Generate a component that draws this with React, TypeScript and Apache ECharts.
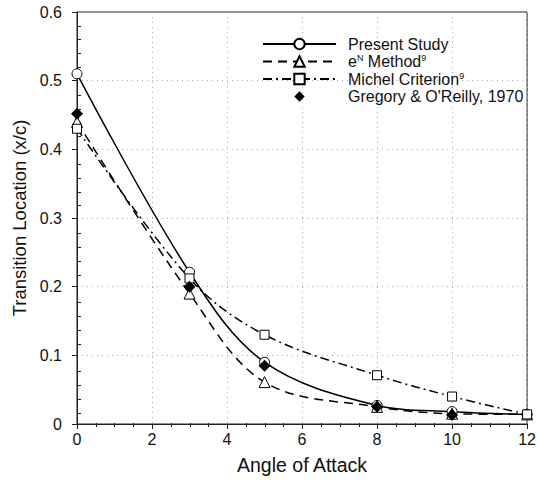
import React, { useEffect, useRef } from "react";
import * as echarts from "echarts";

const angles = [0, 3, 5, 8, 10, 12];
const presentStudy = [0.51, 0.221, 0.09, 0.027, 0.018, 0.014];
const eNMethod = [0.44, 0.19, 0.061, 0.025, 0.015, 0.014];
const michel = [0.43, 0.212, 0.13, 0.071, 0.04, 0.014];
const gregoryAngles = [0, 3, 5, 8, 10];
const gregory = [0.452, 0.2, 0.085, 0.025, 0.013];

const FONT = "Liberation Sans, Arial, sans-serif";

function pairs(xs: number[], ys: number[]) {
  return xs.map((x, i) => [x, ys[i]]);
}

export default function App() {
  const ref = useRef<HTMLDivElement>(null);
  useEffect(() => {
    if (!ref.current) return;
    const chart = echarts.init(ref.current, undefined, { renderer: "svg" });
    const gridPos = { left: 77, right: 11, top: 12, bottom: 53 };
    const axisBase = {
      axisLine: { show: true, lineStyle: { color: "#222", width: 1 } },
    };
    const legendLabels: Record<string, string> = {
      "Present Study": "{sp| }{n|Present Study}{s| }",
      "eN Method": "{sp| }{n|e}{s|N}{n| Method}{s|9}",
      "Michel Criterion": "{sp| }{n|Michel Criterion}{s|9}",
      "Gregory & O'Reilly, 1970": "{sp| }{n|Gregory & O'Reilly, 1970}{s| }",
    };
    chart.setOption({
      animation: false,
      backgroundColor: "#fff",
      grid: [
        { ...gridPos, show: true, borderColor: "#222", borderWidth: 1, backgroundColor: "transparent" },
        { ...gridPos },
      ],
      xAxis: [
        {
          ...axisBase,
          gridIndex: 0,
          type: "value",
          min: 0,
          max: 12,
          interval: 2,
          name: "Angle of Attack",
          nameLocation: "middle",
          nameGap: 31,
          nameTextStyle: { fontFamily: FONT, fontSize: 19.5, color: "#111" },
          axisTick: { show: true, inside: false, length: 5, lineStyle: { color: "#222" } },
          axisLabel: { fontFamily: FONT, fontSize: 16, color: "#111", margin: 7 },
          splitLine: { show: true, lineStyle: { color: "#aaa", type: [1, 4], width: 1 } },
        },
        {
          gridIndex: 1,
          type: "value",
          min: 0,
          max: 12,
          interval: 2,
          position: "bottom",
          axisLine: { show: false },
          axisTick: { show: false, inside: true },
          minorTick: { show: true, splitNumber: 4, length: 4, lineStyle: { color: "#222", width: 1 } },
          axisLabel: { show: false },
          splitLine: { show: false },
        },
      ],
      yAxis: [
        {
          ...axisBase,
          gridIndex: 0,
          type: "value",
          min: 0,
          max: 0.6,
          interval: 0.1,
          name: "Transition Location (x/c)",
          nameLocation: "middle",
          nameGap: 38,
          nameTextStyle: { fontFamily: FONT, fontSize: 18.5, color: "#111" },
          axisTick: { show: true, inside: false, length: 5, lineStyle: { color: "#222" } },
          axisLabel: { fontFamily: FONT, fontSize: 16, color: "#111", margin: 15 },
          splitLine: { show: true, lineStyle: { color: "#aaa", type: [1, 4], width: 1 } },
        },
        {
          gridIndex: 1,
          type: "value",
          min: 0,
          max: 0.6,
          interval: 0.1,
          position: "left",
          axisLine: { show: false },
          axisTick: { show: false, inside: true },
          minorTick: { show: true, splitNumber: 5, length: 4, lineStyle: { color: "#222", width: 1 } },
          axisLabel: { show: false },
          splitLine: { show: false },
        },
      ],
      legend: {
        orient: "vertical",
        left: 257,
        top: 31,
        itemWidth: 73,
        itemHeight: 13,
        itemGap: 1.5,
        data: ["Present Study", "eN Method", "Michel Criterion", "Gregory & O'Reilly, 1970"],
        formatter: (name: string) => legendLabels[name] || name,
        textStyle: {
          fontFamily: FONT,
          fontSize: 16,
          color: "#111",
          lineHeight: 16,
          rich: {
            sp: { width: 7, fontSize: 10, lineHeight: 16 },
            n: { fontFamily: FONT, fontSize: 16, color: "#111", lineHeight: 16 },
            s: { fontFamily: FONT, fontSize: 9, color: "#111", lineHeight: 9, padding: [0, 0, 7, 0] },
          },
        },
      },
      series: [
        {
          name: "Present Study",
          type: "line",
          smooth: 0.35,
          data: pairs(angles, presentStudy),
          symbol: "circle",
          symbolSize: 10,
          lineStyle: { color: "#000", width: 1.5, type: "solid" },
          itemStyle: { color: "#fff", borderColor: "#000", borderWidth: 1 },
          z: 3,
        },
        {
          name: "eN Method",
          type: "line",
          smooth: 0.35,
          data: pairs(angles, eNMethod),
          symbol: "triangle",
          symbolSize: 11,
          lineStyle: { color: "#000", width: 1.5, type: [9, 6] },
          itemStyle: { color: "#fff", borderColor: "#000", borderWidth: 1 },
          z: 3,
        },
        {
          name: "Michel Criterion",
          type: "line",
          smooth: 0.35,
          data: pairs(angles, michel),
          symbol: "rect",
          symbolSize: 9,
          lineStyle: { color: "#000", width: 1.5, type: [9, 4, 2, 4] },
          itemStyle: { color: "#fff", borderColor: "#000", borderWidth: 1 },
          z: 3,
        },
        {
          name: "Gregory & O'Reilly, 1970",
          type: "line",
          data: pairs(gregoryAngles, gregory),
          symbol: "diamond",
          symbolSize: 12,
          lineStyle: { width: 0, opacity: 0, color: "#000" },
          itemStyle: { color: "#000", borderColor: "#000", borderWidth: 0 },
          z: 4,
        },
      ],
    });
    return () => chart.dispose();
  }, []);
  return <div ref={ref} style={{ width: 539, height: 480, position: "absolute", left: 0, top: 0 }} />;
}
